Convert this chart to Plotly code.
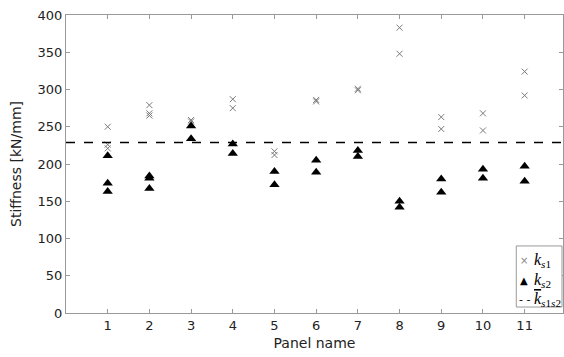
import plotly.graph_objects as go

panels = [1, 2, 3, 4, 5, 6, 7, 8, 9, 10, 11]
ks1 = [
    [250, 226, 221],
    [279, 268, 265],
    [259, 257],
    [287, 275],
    [217, 212],
    [286, 284],
    [301, 299],
    [383, 348],
    [263, 247],
    [268, 245],
    [324, 292],
]
ks2 = [
    [211, 174, 163],
    [184, 181, 167],
    [251, 234],
    [227, 214],
    [190, 172],
    [205, 189],
    [218, 210],
    [150, 142],
    [180, 162],
    [193, 181],
    [197, 177],
]
ks_mean = 229
y_ticks = [0, 50, 100, 150, 200, 250, 300, 350, 400]
legend_labels = ["<i>k</i><sub><i>s</i>1</sub>", "<i>k</i><sub><i>s</i>2</sub>",
                 "<span style='text-decoration:overline'><i>k</i></span><sub><i>s</i>1<i>s</i>2</sub>"]

x1, y1, x2, y2 = [], [], [], []
for p, a, b in zip(panels, ks1, ks2):
    x1 += [p] * len(a); y1 += a
    x2 += [p] * len(b); y2 += b

fig = go.Figure()
fig.add_trace(go.Scatter(x=x1, y=y1, mode="markers", name="k_s1", showlegend=False,
                         marker=dict(symbol="x-thin", size=6, line=dict(width=1, color="#7a7a7a"), color="#7a7a7a")))
fig.add_trace(go.Scatter(x=x2, y=y2, mode="markers", name="k_s2", showlegend=False,
                         marker=dict(symbol="triangle-up", size=9, color="black")))
fig.add_trace(go.Scatter(x=[0, 12], y=[ks_mean, ks_mean], mode="lines", name="mean k_s1s2", showlegend=False,
                         line=dict(color="black", width=1.5, dash="dash")))

axis_common = dict(showline=True, linecolor="#999999", linewidth=1, mirror="ticks",
                   ticks="inside", ticklen=4, tickcolor="#999999", showgrid=False, zeroline=False,
                   tickfont=dict(family="DejaVu Sans", size=13, color="#222222"))
fig.update_xaxes(range=[0, 11.92], tickvals=panels, title=dict(text="Panel name", standoff=6,
                 font=dict(family="DejaVu Sans", size=14, color="#222222")), **axis_common)
fig.update_yaxes(range=[0, 400], tickvals=y_ticks, title=dict(text="Stiffness [kN/mm]", standoff=12,
                 font=dict(family="DejaVu Sans", size=14, color="#222222")), **axis_common)

# manual compact legend (box in paper coordinates, lower right)
fig.add_shape(type="rect", xref="paper", yref="paper", x0=0.906, x1=0.998, y0=0.02, y1=0.225,
              line=dict(color="#999999", width=1), fillcolor="white", layer="above")
sym = [("\u00d7", "#888888", 10), ("\u25b2", "black", 10), ("- -", "black", 11)]
ys = [0.175, 0.108, 0.045]
for (s, c, fs), yy, lab in zip(sym, ys, legend_labels):
    fig.add_annotation(xref="paper", yref="paper", x=0.922, y=yy, text=s, showarrow=False,
                       font=dict(family="DejaVu Sans", size=fs, color=c), xanchor="center", yanchor="middle")
    fig.add_annotation(xref="paper", yref="paper", x=0.937, y=yy, text=lab, showarrow=False,
                       font=dict(family="Liberation Serif", size=16, color="black"),
                       xanchor="left", yanchor="middle")

fig.update_layout(
    width=564, height=357,
    margin=dict(l=66, r=1, t=15, b=44),
    plot_bgcolor="white", paper_bgcolor="white",
    showlegend=False,
)
fig.write_html("out.html", config={"displayModeBar": False},
               post_script="document.body.style.margin='0';")
